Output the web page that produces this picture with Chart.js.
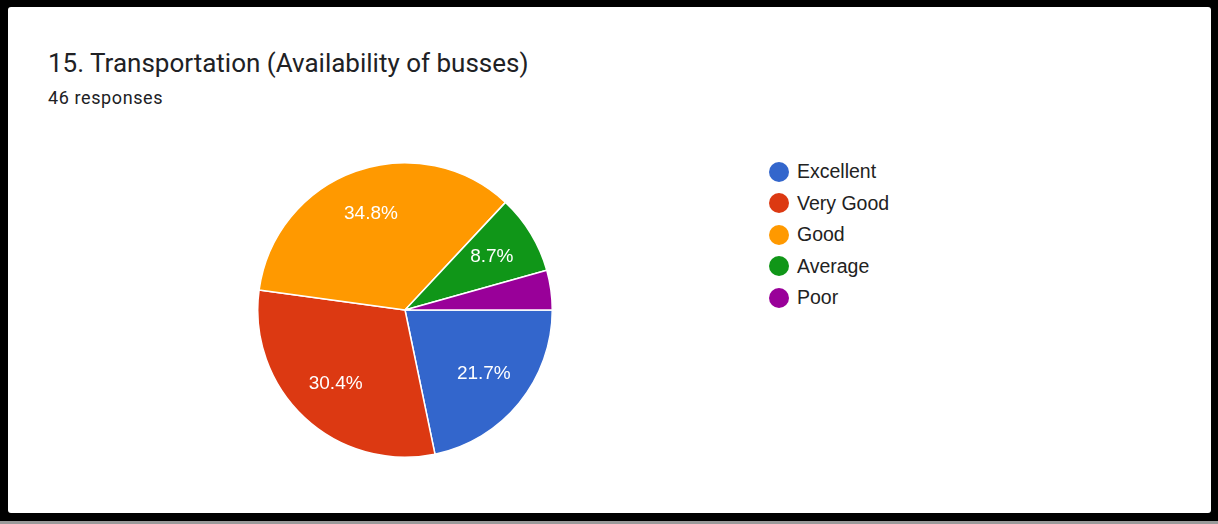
<!DOCTYPE html>
<html>
<head>
<meta charset="utf-8">
<script src="https://cdn.jsdelivr.net/npm/chart.js@4.4.0/dist/chart.umd.min.js"></script>
<style>
  html, body { margin: 0; padding: 0; }
  body { width: 1218px; height: 524px; background: #000; position: relative; overflow: hidden; }
  #strip { position: absolute; left: 0; top: 521px; width: 1218px; height: 3px; background: #9a9a9a; }
  #card { position: absolute; left: 8px; top: 7px; width: 1203px; height: 506px; background: #fff; border-radius: 3px; }
  #title { position: absolute; left: 40px; top: 41px; font-family: Roboto, sans-serif; font-size: 26px; color: #202124; white-space: nowrap; }
  #sub { position: absolute; left: 40px; top: 80px; font-family: Roboto, sans-serif; font-size: 18px; letter-spacing: 0.6px; color: #202124; white-space: nowrap; }
  #pieWrap { position: absolute; left: 249px; top: 155px; width: 296px; height: 296px; }
  #legend { position: absolute; left: 761px; top: 149px; font-family: "Liberation Sans", Arial, sans-serif; font-size: 19.5px; color: #222; }
  .item { height: 31.5px; display: flex; align-items: center; }
  .dot { width: 20px; height: 20px; border-radius: 50%; margin-right: 8px; }
</style>
</head>
<body>
<div id="strip"></div>
<div id="card">
  <div id="title">15. Transportation (Availability of busses)</div>
  <div id="sub">46 responses</div>
  <div id="pieWrap"><canvas id="pie" width="296" height="296"></canvas></div>
  <div id="legend"></div>
</div>
<script>
// 回答データ（46件）
const categories = ['Excellent', 'Very Good', 'Good', 'Average', 'Poor'];
const responseCounts = [10, 14, 16, 4, 2];
const sliceColors = ['#3366cc', '#dc3912', '#ff9900', '#109618', '#990099'];

// スライス上のパーセント表示（5%未満は非表示）
const pctLabels = {
    id: 'pctLabels',
    afterDatasetsDraw(chart) {
        const ctx = chart.ctx;
        const meta = chart.getDatasetMeta(0);
        const total = responseCounts.reduce((a, b) => a + b, 0);
        ctx.save();
        ctx.fillStyle = '#fff';
        ctx.font = '19px "Liberation Sans", Arial, sans-serif';
        ctx.textAlign = 'center';
        ctx.textBaseline = 'middle';
        meta.data.forEach((arc, i) => {
            const share = responseCounts[i] / total;
            if (share < 0.05) return;
            const mid = (arc.startAngle + arc.endAngle) / 2;
            const r = arc.outerRadius * 0.69;
            const label = (share * 100).toFixed(1) + '%';
            ctx.fillText(label, arc.x + Math.cos(mid) * r, arc.y + Math.sin(mid) * r);
        });
        ctx.restore();
    }
};

new Chart(document.getElementById('pie'), {
    type: 'pie',
    data: {
        labels: categories,
        datasets: [{
            data: responseCounts,
            backgroundColor: sliceColors,
            borderColor: '#fff',
            borderWidth: 1.5
        }]
    },
    options: {
        responsive: false,
        animation: false,
        rotation: 90,
        layout: { padding: 0 },
        plugins: {
            legend: { display: false },
            tooltip: { enabled: false }
        }
    },
    plugins: [pctLabels]
});

// 凡例
const legendEl = document.getElementById('legend');
categories.forEach((name, i) => {
    const row = document.createElement('div');
    row.className = 'item';
    row.innerHTML = '<span class="dot" style="background:' + sliceColors[i] + '"></span>' + name;
    legendEl.appendChild(row);
});
</script>
</body>
</html>
